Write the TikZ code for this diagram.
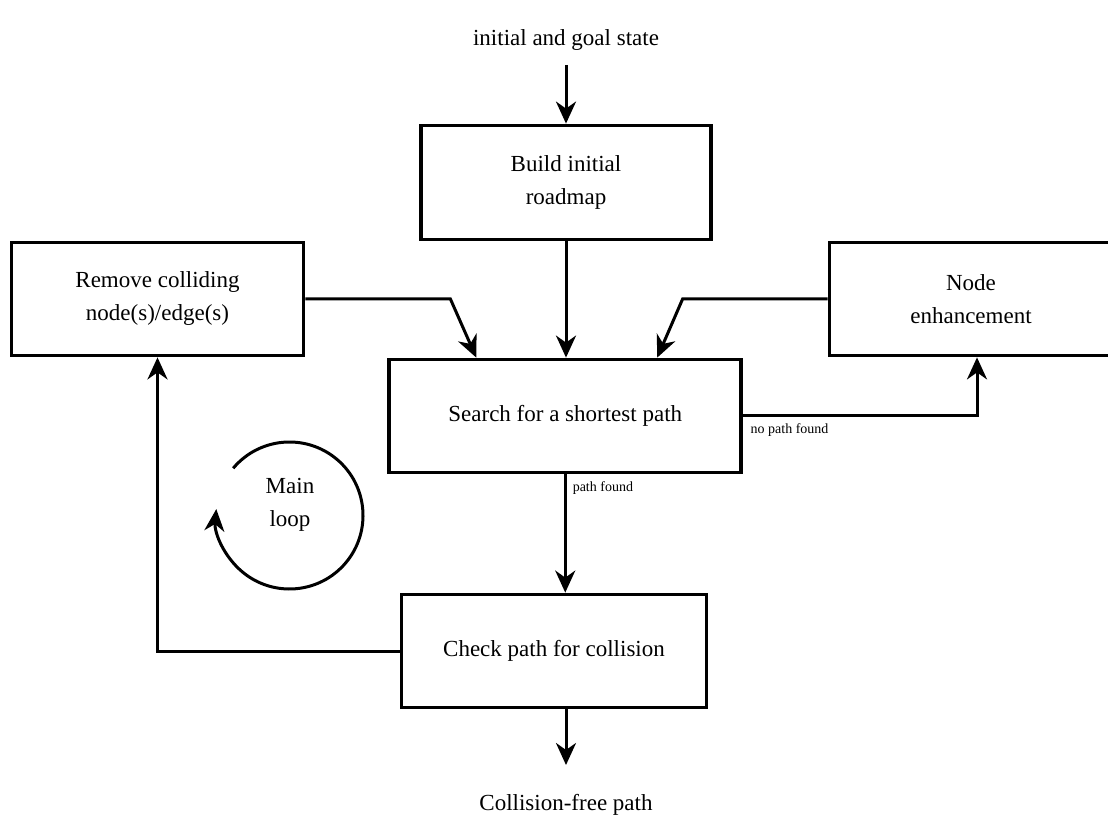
\documentclass[tikz,border=0pt]{standalone}
\usepackage{fontspec}
\setmainfont{Liberation Serif}
\usetikzlibrary{positioning,arrows.meta}

\begin{document}
\begin{tikzpicture}[x=0.5pt,y=-0.5pt,
  >={Stealth[length=11pt,width=10pt,inset=3.5pt]},
  block/.style={draw,line width=1.9pt,align=center,inner sep=0pt,
    minimum height=56.5pt,font=\fontsize{11.5}{16.5}\selectfont},
  conn/.style={->,line width=1.5pt},
  label/.style={font=\fontsize{11.5}{14}\selectfont},
  small/.style={font=\fontsize{7}{8}\selectfont,inner sep=3pt}]
  \clip (0,0) rectangle (1108,823);
  % boxes
  \node[block,minimum width=145pt,minimum height=57pt] (build) at (566,182.5) {Build initial\\roadmap};
  \node[block,minimum width=146pt] (remove) at (157.5,299) {Remove colliding\\node(s)/edge(s)};
  \node[block,minimum width=141.5pt] (enh) at (971,299) {Node\\enhancement};
  \node[block,minimum width=176pt] (search) at (565.25,416) {Search for a shortest path};
  \node[block,minimum width=152.5pt] (check) at (554,651) {Check path for collision};
  % outer texts
  \node[label] (goal) at (566,40) {initial and goal state};
  \node[label] (result) at (566,805) {Collision-free path};
  \node[label,align=center,font=\fontsize{11.5}{16.5}\selectfont] (loop) at (290,505) {Main\\loop};
  \coordinate (instart) at (566,65);
  \coordinate (outend) at (566,765);
  % connectors
  \draw[conn] (instart) -- (instart |- build.north);
  \draw[conn] (build.south) -- (build.south |- search.north);
  \draw[conn] (remove.east) -- ++(145,0) -- ([xshift=-44.5pt]search.north);
  \draw[conn] (enh.west) -- ++(-145,0) -- ([xshift=46pt]search.north);
  \draw[conn] (search.east) -| ([xshift=3pt]enh.south)
    node[small,pos=0,anchor=north west] {no path found};
  \draw[conn] (search.south) -- (search.south |- check.north)
    node[small,pos=0,anchor=north west] {path found};
  \draw[conn] (outend |- check.south) -- (outend);
  \draw[conn] (check.west) -| (remove.south);
  % main loop
  \draw[conn] (289.5,515.5) ++(-140:73.5) arc[start angle=-140,end angle=185,radius=73.5];
\end{tikzpicture}
\end{document}
